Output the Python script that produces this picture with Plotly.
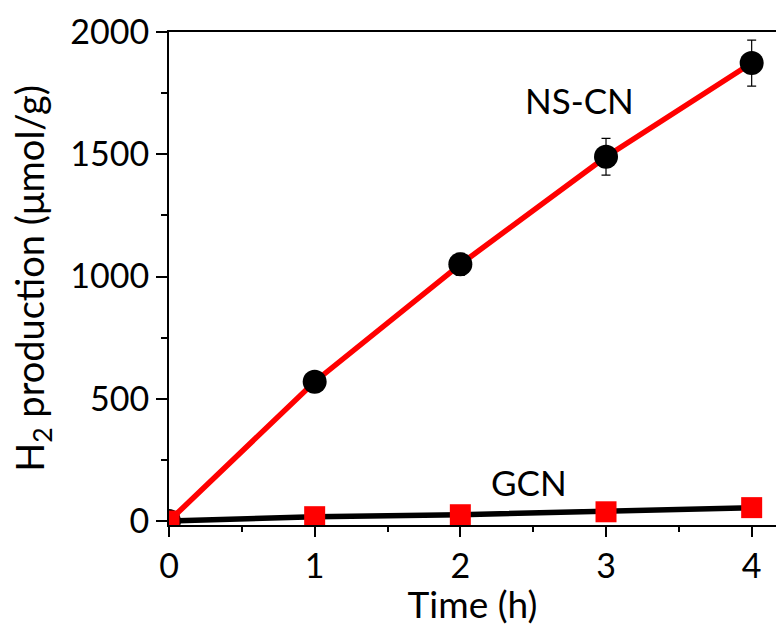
import plotly.graph_objects as go

# Irradiation time (h)
time_h = [0, 1, 2, 3, 4]

# Cumulative H2 evolution (umol/g)
nscn_h2 = [0, 570, 1050, 1490, 1873]
nscn_err = [0, 0, 45, 75, 94]
gcn_h2 = [0, 18, 26, 38, 55]

series_labels = ["NS-CN", "GCN"]
x_title = "Time (h)"
y_title = "H<sub>2</sub> production (μmol/g)"

FONT = "Lato"

fig = go.Figure()

fig.add_trace(go.Scatter(
    x=time_h, y=nscn_h2, mode="lines+markers", name=series_labels[0],
    line=dict(color="#ff0000", width=5.5),
    marker=dict(symbol="circle", size=24, color="black", line=dict(width=0)),
    error_y=dict(type="data", array=nscn_err, visible=True,
                 color="black", thickness=1.2, width=4.5),
    cliponaxis=True,
))

fig.add_trace(go.Scatter(
    x=time_h, y=gcn_h2, mode="lines+markers", name=series_labels[1],
    line=dict(color="black", width=5.5),
    marker=dict(symbol="square", size=21, color="#ff0000", line=dict(width=0)),
    cliponaxis=True,
))

fig.add_annotation(x=2.82, y=1723, text=series_labels[0], showarrow=False,
                   font=dict(family=FONT, size=35, color="black"))
fig.add_annotation(x=2.47, y=161, text=series_labels[1], showarrow=False,
                   font=dict(family=FONT, size=35, color="black"))

fig.update_layout(
    width=776, height=626,
    margin=dict(l=169, r=0, t=32, b=101),
    paper_bgcolor="white", plot_bgcolor="white",
    showlegend=False,
    font=dict(family=FONT, size=34, color="black"),
)

fig.update_xaxes(
    range=[0, 4.167], tickvals=[0, 1, 2, 3, 4],
    showline=True, linecolor="black", linewidth=2, mirror=True,
    ticks="outside", ticklen=10, tickwidth=1.5, tickcolor="black",
    minor=dict(tickvals=[0.5, 1.5, 2.5, 3.5], ticks="outside", ticklen=5,
               tickwidth=1.5, tickcolor="black"),
    showgrid=False, zeroline=False,
    tickfont=dict(family=FONT, size=34),
    title=dict(text=x_title, font=dict(family=FONT, size=37), standoff=6),
)

fig.update_yaxes(
    range=[-16, 2000], tickvals=[0, 500, 1000, 1500, 2000],
    showline=True, linecolor="black", linewidth=2, mirror=False,
    ticks="outside", ticklen=11, tickwidth=1.5, tickcolor="black",
    minor=dict(tickvals=[250, 750, 1250, 1750], ticks="outside", ticklen=6,
               tickwidth=1.5, tickcolor="black"),
    showgrid=False, zeroline=False,
    tickfont=dict(family=FONT, size=34),
    title=dict(text=y_title, font=dict(family=FONT, size=38), standoff=14),
)

fig.write_html("out.html")
